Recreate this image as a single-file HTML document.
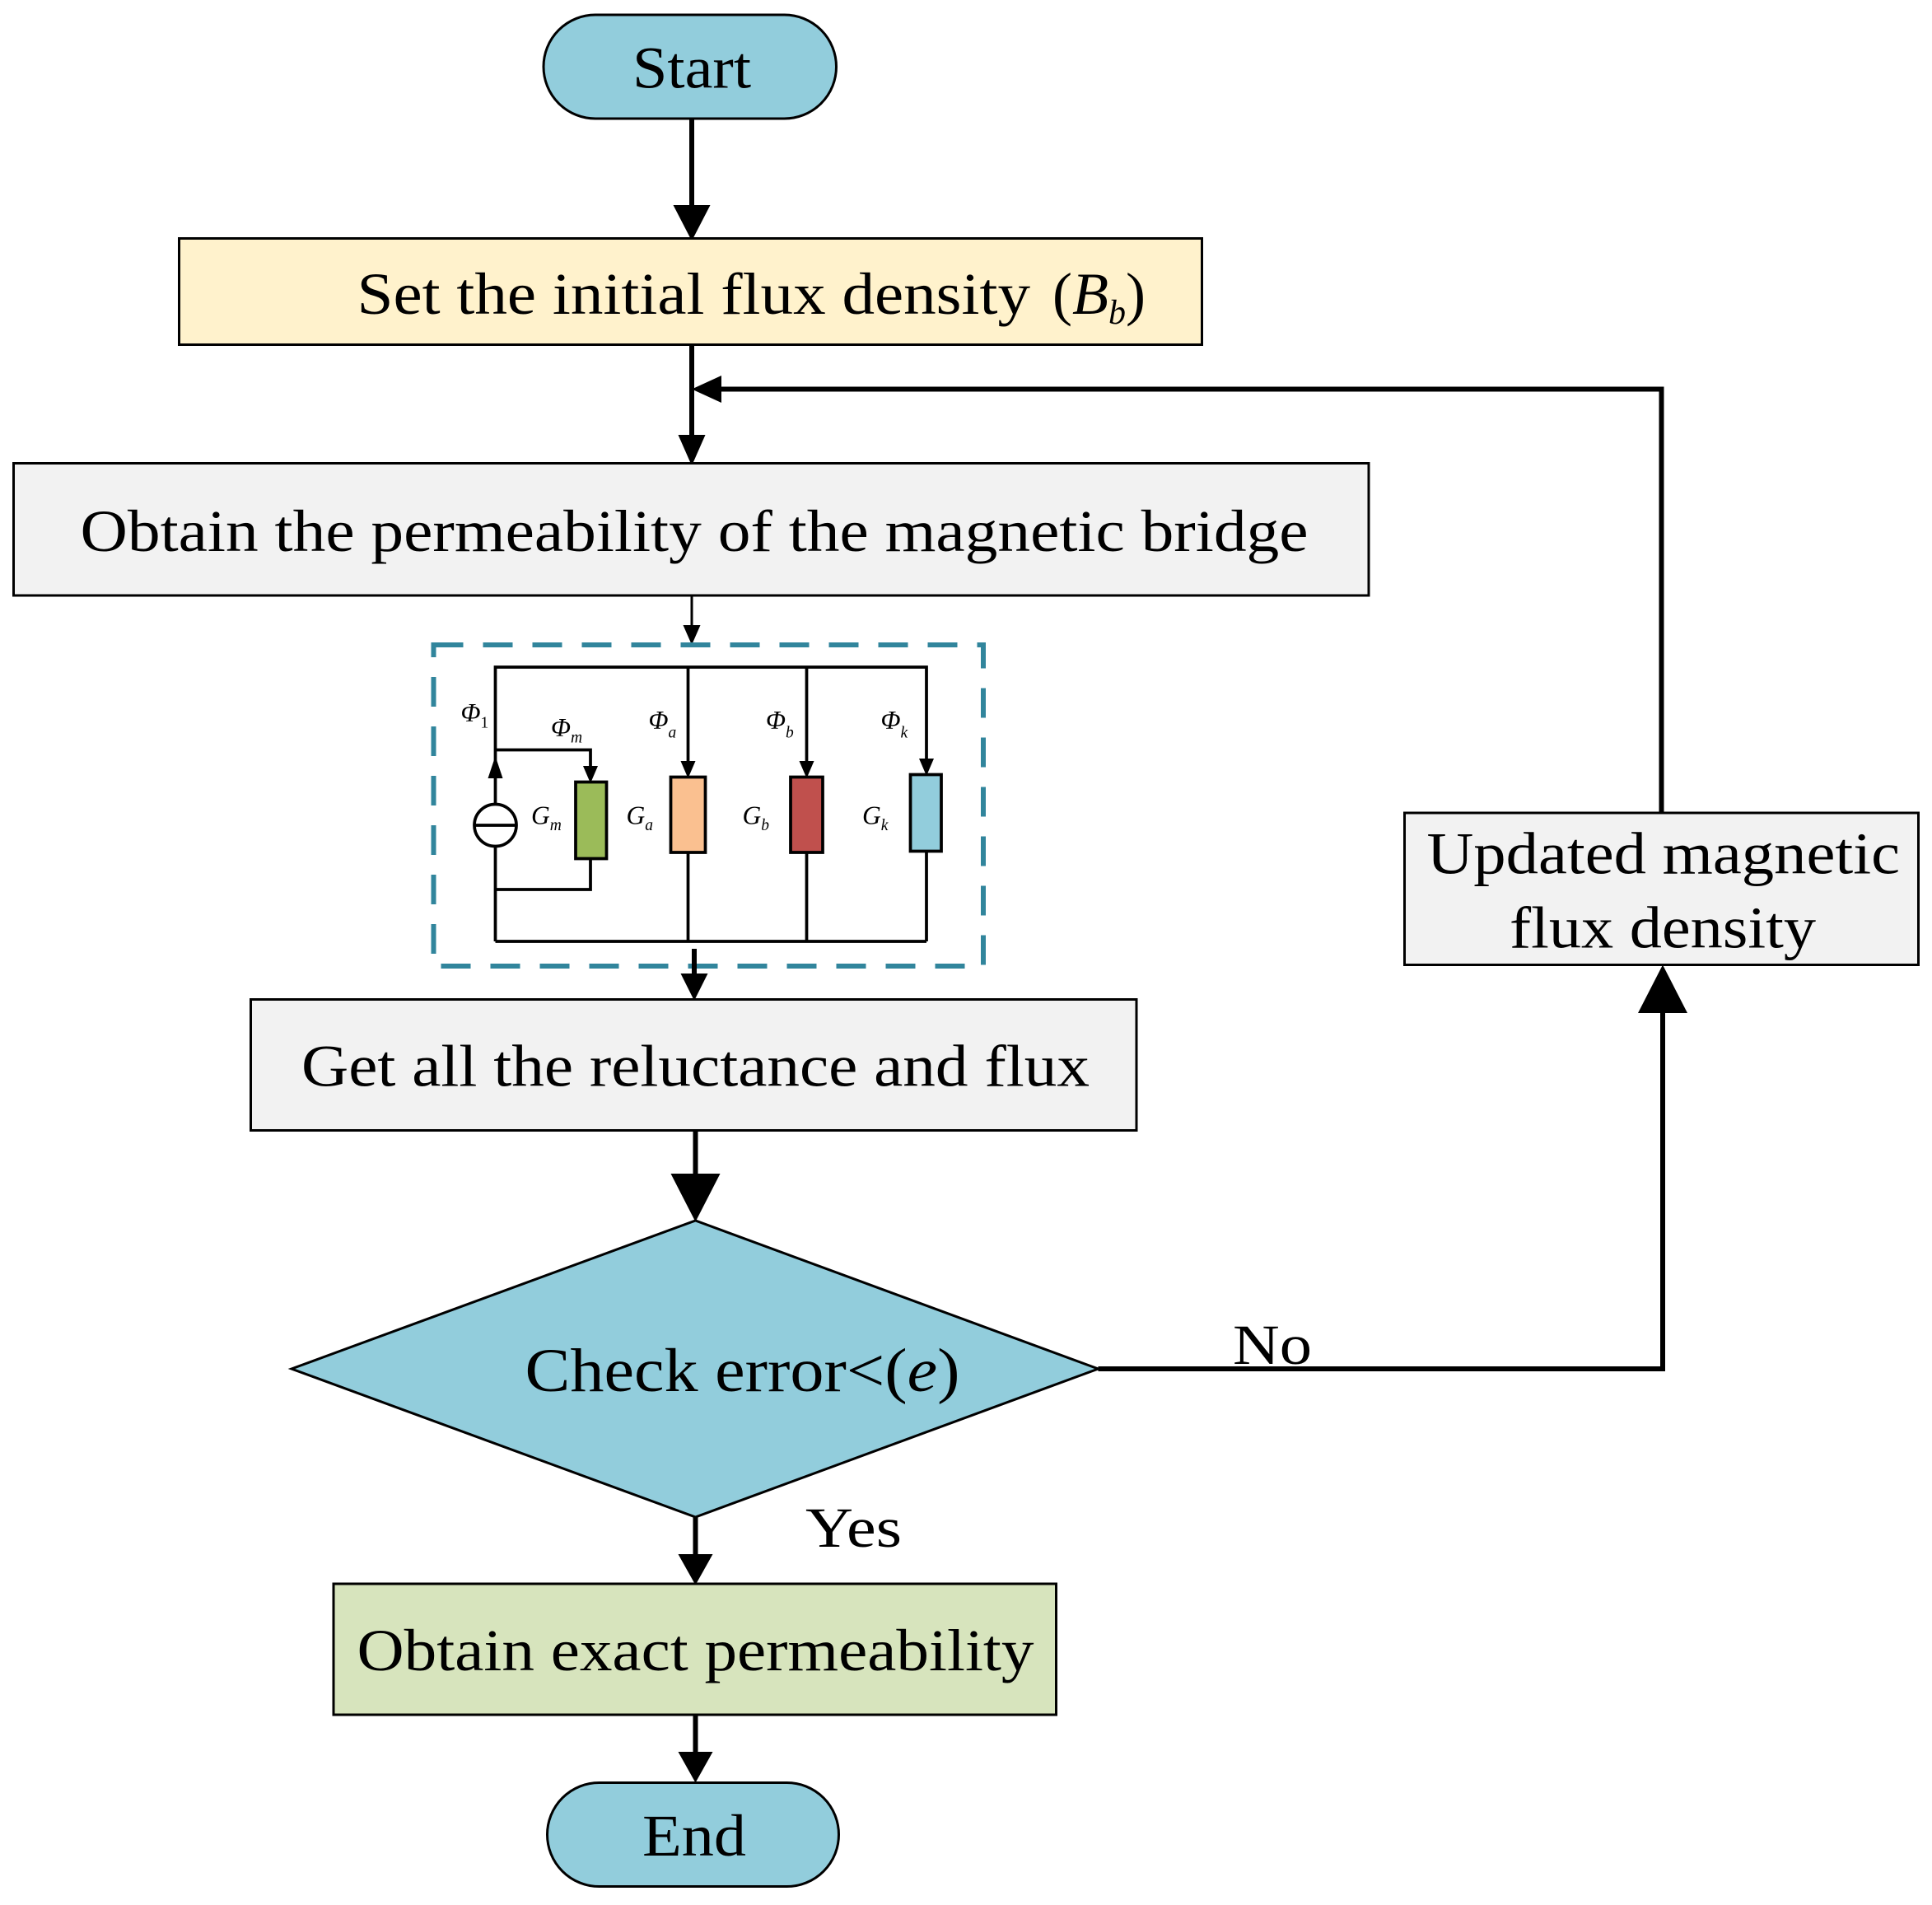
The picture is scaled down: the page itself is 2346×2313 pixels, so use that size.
<!DOCTYPE html>
<html><head><meta charset="utf-8"><style>html,body{margin:0;padding:0;background:#fff}svg{display:block}</style></head>
<body>
<svg width="2346" height="2313" viewBox="0 0 1564 1542" xmlns="http://www.w3.org/2000/svg" font-family="Liberation Serif, serif">
<rect width="1564" height="1542" fill="#fff"/>
<!-- Start -->
<rect x="440" y="12" width="237" height="84" rx="42" fill="#92CDDC" stroke="#000" stroke-width="2"/>
<text x="560" y="71" font-size="48" text-anchor="middle" textLength="96" lengthAdjust="spacingAndGlyphs">Start</text>
<line x1="560" y1="96" x2="560" y2="170" stroke="#000" stroke-width="4"/>
<path d="M545,166 L575,166 L560,195z"/>
<!-- box1 -->
<rect x="145" y="193" width="828" height="86" fill="#FFF2CC" stroke="#000" stroke-width="2"/>
<text x="289" y="254" font-size="48" textLength="545" lengthAdjust="spacingAndGlyphs">Set the initial flux density</text>
<text x="852" y="254" font-size="48">(<tspan font-style="italic">B</tspan><tspan font-style="italic" font-size="28" dy="8">b</tspan><tspan dy="-8">)</tspan></text>
<line x1="560" y1="279" x2="560" y2="356" stroke="#000" stroke-width="4"/>
<path d="M549,352 L571,352 L560,377z"/>
<polyline points="1345,658 1345,315 580,315" fill="none" stroke="#000" stroke-width="4"/>
<path d="M584,304 L584,326 L560,315z"/>
<!-- box2 -->
<rect x="11" y="375" width="1097" height="107" fill="#F2F2F2" stroke="#000" stroke-width="2"/>
<text x="562" y="446" font-size="48" text-anchor="middle" textLength="994" lengthAdjust="spacingAndGlyphs">Obtain the permeability of the magnetic bridge</text>
<line x1="560" y1="482" x2="560" y2="510" stroke="#000" stroke-width="2"/>
<path d="M553,506 L567,506 L560,522z"/>
<!-- dashed box -->
<rect x="351" y="522" width="445" height="260" fill="none" stroke="#31859C" stroke-width="4" stroke-dasharray="24,16"/>
<!-- circuit -->
<g stroke="#000" stroke-width="2.5" fill="none">
<polyline points="401,762 401,540 750,540 750,620"/>
<line x1="401" y1="762" x2="750" y2="762"/>
<line x1="557" y1="540" x2="557" y2="620"/>
<line x1="557" y1="690" x2="557" y2="762"/>
<line x1="653" y1="540" x2="653" y2="620"/>
<line x1="653" y1="690" x2="653" y2="762"/>
<line x1="750" y1="689" x2="750" y2="762"/>
<polyline points="401,607 478,607 478,625"/>
<polyline points="478,695 478,720 401,720"/>
</g>
<circle cx="401" cy="668" r="17" fill="#fff" stroke="#000" stroke-width="2.5"/>
<line x1="384" y1="668" x2="418" y2="668" stroke="#000" stroke-width="2.5"/>
<path d="M395,630 L407,630 L401,612z"/>
<path d="M472,620 L484,620 L478,634z"/>
<path d="M551,616 L563,616 L557,630z"/>
<path d="M647,616 L659,616 L653,630z"/>
<path d="M744,614 L756,614 L750,628z"/>
<rect x="466" y="633" width="25" height="62" fill="#9BBB59" stroke="#000" stroke-width="2.5"/>
<rect x="543" y="629" width="28" height="61" fill="#FAC090" stroke="#000" stroke-width="2.5"/>
<rect x="640" y="629" width="26" height="61" fill="#C0504D" stroke="#000" stroke-width="2.5"/>
<rect x="737" y="627" width="25" height="62" fill="#92CDDC" stroke="#000" stroke-width="2.5"/>
<g font-style="italic" font-size="21">
<text x="373" y="584">Φ<tspan font-size="13" dy="5" font-style="normal">1</tspan></text>
<text x="446" y="596">Φ<tspan font-size="13" dy="5">m</tspan></text>
<text x="525" y="590">Φ<tspan font-size="13" dy="7">a</tspan></text>
<text x="620" y="590">Φ<tspan font-size="13" dy="7">b</tspan></text>
<text x="713" y="590">Φ<tspan font-size="13" dy="7">k</tspan></text>
<text x="430" y="667">G<tspan font-size="13" dy="5">m</tspan></text>
<text x="507" y="667">G<tspan font-size="13" dy="5">a</tspan></text>
<text x="601" y="667">G<tspan font-size="13" dy="5">b</tspan></text>
<text x="698" y="667">G<tspan font-size="13" dy="5">k</tspan></text>
</g>
<line x1="562" y1="768" x2="562" y2="792" stroke="#000" stroke-width="4"/>
<path d="M551,788 L573,788 L562,810z"/>
<!-- box3 -->
<rect x="203" y="809" width="717" height="106" fill="#F2F2F2" stroke="#000" stroke-width="2"/>
<text x="563" y="879" font-size="48" text-anchor="middle" textLength="638" lengthAdjust="spacingAndGlyphs">Get all the reluctance and flux</text>
<line x1="563" y1="915" x2="563" y2="955" stroke="#000" stroke-width="4"/>
<path d="M543,950 L583,950 L563,989z"/>
<!-- diamond -->
<path d="M236,1108 L563,988 L889,1108 L563,1228z" fill="#92CDDC" stroke="#000" stroke-width="2"/>
<text x="425" y="1126" font-size="50" textLength="352" lengthAdjust="spacingAndGlyphs">Check error&lt;(<tspan font-style="italic">e</tspan>)</text>
<polyline points="889,1108 1346,1108 1346,815" fill="none" stroke="#000" stroke-width="4"/>
<path d="M1326,820 L1366,820 L1346,781z"/>
<text x="998" y="1104" font-size="46" textLength="64" lengthAdjust="spacingAndGlyphs">No</text>
<!-- updated -->
<rect x="1137" y="658" width="416" height="123" fill="#F2F2F2" stroke="#000" stroke-width="2"/>
<text x="1155" y="707" font-size="48" textLength="383" lengthAdjust="spacingAndGlyphs">Updated magnetic</text>
<text x="1222" y="767" font-size="48" textLength="248" lengthAdjust="spacingAndGlyphs">flux density</text>
<text x="652" y="1252" font-size="46" textLength="78" lengthAdjust="spacingAndGlyphs">Yes</text>
<line x1="563" y1="1228" x2="563" y2="1262" stroke="#000" stroke-width="4"/>
<path d="M549,1258 L577,1258 L563,1283z"/>
<!-- box5 -->
<rect x="270" y="1282" width="585" height="106" fill="#D7E4BD" stroke="#000" stroke-width="2"/>
<text x="563" y="1352" font-size="48" text-anchor="middle" textLength="548" lengthAdjust="spacingAndGlyphs">Obtain exact permeability</text>
<line x1="563" y1="1388" x2="563" y2="1422" stroke="#000" stroke-width="4"/>
<path d="M549,1418 L577,1418 L563,1443z"/>
<!-- End -->
<rect x="443" y="1443" width="236" height="84" rx="42" fill="#92CDDC" stroke="#000" stroke-width="2"/>
<text x="562" y="1502" font-size="48" text-anchor="middle" textLength="84" lengthAdjust="spacingAndGlyphs">End</text>
</svg>
</body></html>
